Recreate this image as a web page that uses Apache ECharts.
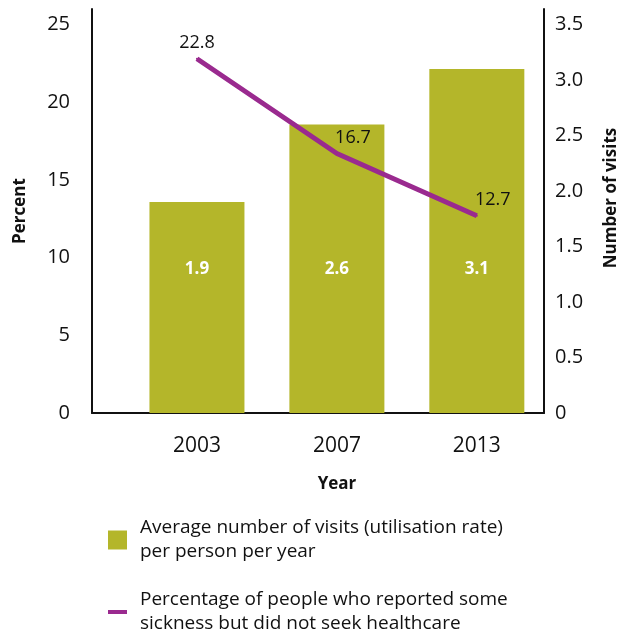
<!DOCTYPE html>
<html>
<head>
<meta charset="utf-8">
<script src="https://cdn.jsdelivr.net/npm/echarts@6/dist/echarts.min.js"></script>
<style>
  html, body { margin: 0; padding: 0; background: #ffffff; }
  #chart { width: 631px; height: 635px; }
</style>
</head>
<body>
<div id="chart"></div>
<script>
// Survey years and the two measures plotted against them
const years = ['2003', '2007', '2013'];
const visitsPerPerson = [1.9, 2.6, 3.1];        // right axis, bars
const noCarePercent = [22.8, 16.7, 12.7];       // left axis, line
const percentTicks = [0, 5, 10, 15, 20, 25];
const visitTicks = [0, 0.5, 1.0, 1.5, 2.0, 2.5, 3.0, 3.5];

const visitsName = 'Average number of visits (utilisation rate)\nper person per year';
const noCareName = 'Percentage of people who reported some\nsickness but did not seek healthcare';

const OLIVE = '#b4b62a';
const PLUM = '#9a2a8f';
const INK = '#111111';
const FONT = '"Open Sans", Lato, sans-serif';

// Both y scales run slightly past their top tick so the axis lines extend above it
const percentMax = 26;
const visitsMax = visitTicks[visitTicks.length - 1] * percentMax / percentTicks[percentTicks.length - 1];

const chart = echarts.init(document.getElementById('chart'), null, { renderer: 'canvas' });

const option = {
  animation: false,
  backgroundColor: '#ffffff',
  textStyle: { fontFamily: FONT },
  grid: { left: 92, right: 87, top: 9, bottom: 222, containLabel: false },
  xAxis: {
    type: 'value',
    min: -0.75,
    max: 2.48,
    name: 'Year',
    nameLocation: 'middle',
    nameGap: 63,
    nameTextStyle: { fontFamily: FONT, fontWeight: 'bold', fontSize: 17, color: INK, padding: [0, 0, 0, 38] },
    axisLine: { show: true, onZero: false, lineStyle: { color: INK, width: 2 } },
    axisTick: { show: false },
    splitLine: { show: false },
    axisLabel: {
      customValues: years.map((y, i) => i),
      formatter: v => years[Math.round(v)],
      fontFamily: FONT, fontSize: 21, color: INK, margin: 23
    }
  },
  yAxis: [
    {
      type: 'value',
      position: 'left',
      min: percentTicks[0],
      max: percentMax,
      interval: 5,
      name: 'Percent',
      nameLocation: 'middle',
      nameGap: 63,
      nameTextStyle: { fontFamily: FONT, fontWeight: 'bold', fontSize: 17, color: INK },
      axisLine: { show: true, onZero: false, lineStyle: { color: INK, width: 2 } },
      axisTick: { show: false },
      splitLine: { show: false },
      axisLabel: { showMaxLabel: false, fontFamily: FONT, fontSize: 20, color: INK, margin: 22 }
    },
    {
      type: 'value',
      position: 'right',
      min: visitTicks[0],
      max: visitsMax,
      interval: 0.5,
      name: 'Number of visits',
      nameLocation: 'middle',
      nameGap: 59,
      nameTextStyle: { fontFamily: FONT, fontWeight: 'bold', fontSize: 17, color: INK, padding: [0, 0, 0, 26] },
      axisLine: { show: true, onZero: false, lineStyle: { color: INK, width: 2 } },
      axisTick: { show: false },
      splitLine: { show: false },
      axisLabel: {
        showMaxLabel: false,
        formatter: v => (v === 0 ? '0' : v.toFixed(1)),
        fontFamily: FONT, fontSize: 20, color: INK, margin: 11
      }
    }
  ],
  legend: [
    {
      data: [visitsName],
      orient: 'vertical',
      left: 103,
      top: 511,
      icon: 'rect',
      itemWidth: 19,
      itemHeight: 19,
      selectedMode: false,
      textStyle: { fontFamily: FONT, fontSize: 19, color: INK, lineHeight: 24, padding: [0, 0, 0, 8] }
    },
    {
      data: [noCareName],
      orient: 'vertical',
      left: 103,
      top: 583,
      icon: 'rect',
      itemWidth: 19,
      itemHeight: 4,
      selectedMode: false,
      textStyle: { fontFamily: FONT, fontSize: 19, color: INK, lineHeight: 24, padding: [0, 0, 0, 8] }
    }
  ],
  series: [
    {
      name: visitsName,
      type: 'bar',
      yAxisIndex: 1,
      barWidth: 95,
      itemStyle: { color: OLIVE },
      data: visitsPerPerson.map((v, i) => [i, v]),
      label: {
        show: true,
        position: 'insideBottom',
        distance: 135,
        formatter: p => p.value[1].toFixed(1),
        color: '#ffffff',
        fontFamily: FONT,
        fontWeight: 'bold',
        fontSize: 17
      },
      z: 1
    },
    {
      name: noCareName,
      type: 'line',
      yAxisIndex: 0,
      symbol: 'circle',
      symbolSize: 2,
      itemStyle: { color: PLUM },
      lineStyle: { color: PLUM, width: 5 },
      data: noCarePercent.map((v, i) => ({
        value: [i, v],
        label: i === 0 ? {} : { offset: [16, 0] }
      })),
      label: {
        show: true,
        position: 'top',
        distance: 6,
        formatter: p => p.value[1].toFixed(1),
        color: INK,
        fontFamily: FONT,
        fontSize: 18
      },
      z: 3
    }
  ]
};

chart.setOption(option);
</script>
</body>
</html>
